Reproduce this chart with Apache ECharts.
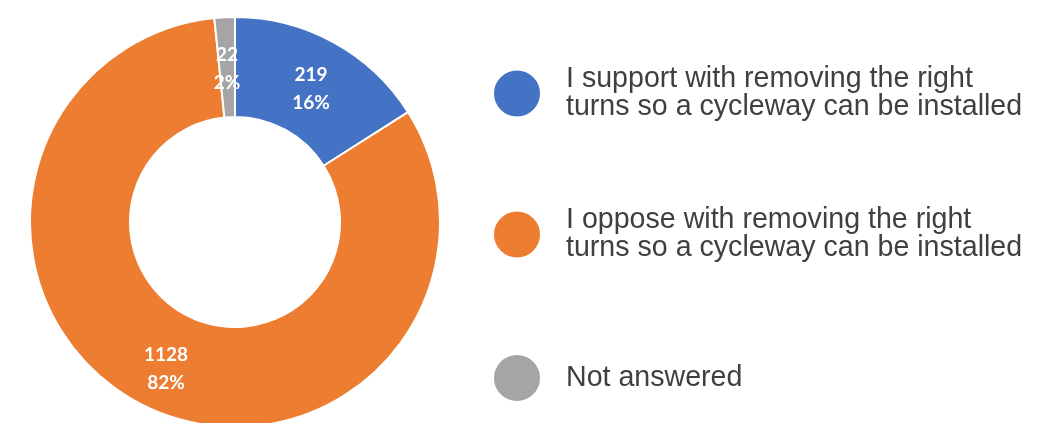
<!DOCTYPE html>
<html>
<head>
<meta charset="utf-8">
<script src="https://cdn.jsdelivr.net/npm/echarts@6/dist/echarts.min.js"></script>
<style>
  html, body { margin: 0; padding: 0; background: #fff; }
  #chart { width: 1044px; height: 423px; }
</style>
</head>
<body>
<div id="chart"></div>
<script>
  // answers, clockwise from 12 o'clock
  var names = [
    'I support with removing the right\nturns so a cycleway can be installed',
    'I oppose with removing the right\nturns so a cycleway can be installed',
    'Not answered'
  ];
  var counts = [219, 1128, 22];
  var colors = ['#4472C4', '#ED7D31', '#A5A5A5'];

  var chart = echarts.init(document.getElementById('chart'));

  var pieData = [];
  for (var i = 0; i < names.length; i++) {
    pieData.push({ name: names[i], value: counts[i], itemStyle: { color: colors[i] } });
  }

  var legendTop = [65, 206, 353];
  var legends = [];
  for (var j = 0; j < names.length; j++) {
    legends.push({
      data: [names[j]],
      left: 492,
      top: legendTop[j],
      padding: 0,
      orient: 'vertical',
      icon: 'circle',
      itemWidth: 48,
      itemHeight: 48,
      selectedMode: false,
      textStyle: {
        fontFamily: 'Liberation Sans',
        fontSize: 28.6,
        lineHeight: 28,
        color: '#404040',
        padding: [0, 0, 0, 20]
      }
    });
  }

  var options = {
    animation: false,
    legend: legends,
    series: [{
      type: 'pie',
      center: [235, 222],
      radius: [105, 205],
      startAngle: 90,
      clockwise: true,
      data: pieData,
      itemStyle: {
        borderColor: '#fff',
        borderWidth: 2
      },
      label: {
        position: 'inside',
        formatter: function (p) {
          return p.value + '\n' + Math.round(p.percent) + '%';
        },
        offset: [0, 5],
        color: '#fff',
        fontFamily: 'Lato',
        fontWeight: 'bold',
        fontSize: 19,
        lineHeight: 28
      },
      labelLine: { show: false },
      emphasis: { disabled: true }
    }]
  };
  chart.setOption(options);
</script>
</body>
</html>
